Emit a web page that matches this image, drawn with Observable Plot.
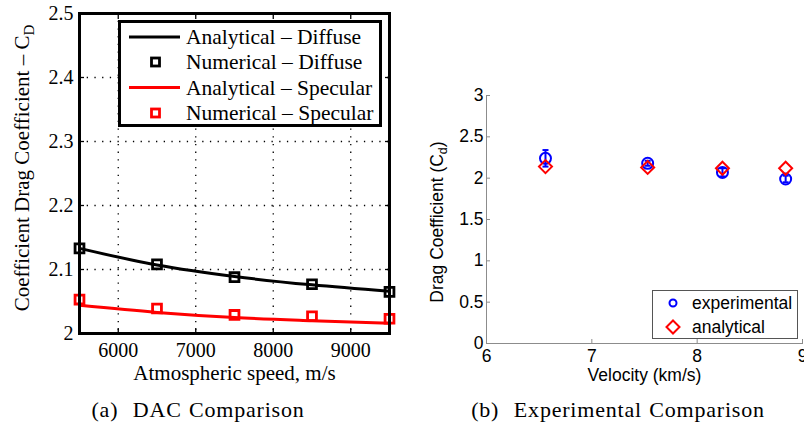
<!DOCTYPE html>
<html><head><meta charset="utf-8">
<script src="https://cdn.jsdelivr.net/npm/d3@7"></script>
<script src="https://cdn.jsdelivr.net/npm/@observablehq/plot@0.6"></script>
<style>
body{margin:0;background:#fff}
#wrap{position:relative;width:804px;height:423px;overflow:hidden;background:#fff}
#left,#right{position:absolute;top:0}
#left{left:0}#right{left:400px}
.cap{position:absolute;top:399px;font-family:"Liberation Serif","Times New Roman",serif;font-size:22px;line-height:22px;letter-spacing:0.8px;word-spacing:1px;white-space:nowrap;transform:translateX(-50%);color:#000}
</style></head><body>
<div id="wrap"><div id="left"></div><div id="right"></div>
<div class="cap" style="left:198px">(a)&nbsp; DAC Comparison</div>
<div class="cap" style="left:618px">(b)&nbsp; Experimental Comparison</div>
</div>
<script>
// ---- Panel (a) data ----
const speeds = [5500, 6500, 7500, 8500, 9500];
const analyticalDiffuse = [2.133, 2.107, 2.089, 2.076, 2.066];
const numericalDiffuse = [2.133, 2.108, 2.088, 2.077, 2.065];
const analyticalSpecular = [2.044, 2.033, 2.025, 2.020, 2.016];
const numericalSpecular = [2.053, 2.039, 2.029, 2.027, 2.023];
const xTicksA = [6000, 7000, 8000, 9000];
const yTicksA = [2, 2.1, 2.2, 2.3, 2.4, 2.5];
const yTickLabelsA = ["2", "2.1", "2.2", "2.3", "2.4", "2.5"];
const legendLabelsA = ["Analytical – Diffuse", "Numerical – Diffuse", "Analytical – Specular", "Numerical – Specular"];

// ---- Panel (b) data ----
const velocities = [6.56, 7.53, 8.24, 8.84];
const experimental = [2.24, 2.18, 2.07, 1.99];
const experimentalErr = [0.10, 0.03, 0.05, 0.04];
const analytical = [2.14, 2.13, 2.12, 2.12];
const xTicksB = [6, 7, 8, 9];
const yTicksB = [0, 0.5, 1, 1.5, 2, 2.5, 3];
const yTickLabelsB = ["0", "0.5", "1", "1.5", "2", "2.5", "3"];
const legendLabelsB = ["experimental", "analytical"];

const serif = "'Liberation Serif', 'Times New Roman', serif";
const sans = "'Liberation Sans', Arial, Helvetica, sans-serif";

const A = speeds.map((s, i) => ({s, ad: analyticalDiffuse[i], nd: numericalDiffuse[i], as: analyticalSpecular[i], ns: numericalSpecular[i]}));
const dotGrid = {stroke: "black", strokeOpacity: 1, strokeWidth: 1.3, strokeDasharray: "1.3,6.4"};

const left = Plot.plot({
  width: 400, height: 390, marginLeft: 79, marginRight: 11, marginTop: 13, marginBottom: 57,
  style: {fontFamily: serif, fontSize: "20px", color: "black", background: "white", overflow: "visible"},
  x: {domain: [5500, 9500]},
  y: {domain: [2, 2.5]},
  marks: [
    Plot.gridX(xTicksA, dotGrid),
    Plot.gridY(yTicksA.slice(1, -1), dotGrid),
    Plot.axisX(xTicksA, {tickSize: 0, tickPadding: 9, tickFormat: d => String(d), label: null}),
    Plot.axisX({label: "Atmospheric speed, m/s", labelArrow: "none", labelAnchor: "center", labelOffset: 46, fontSize: 21, ticks: [], tickSize: 0}),
    Plot.axisY(yTicksA, {tickSize: 0, tickPadding: 6, tickFormat: (d, i) => yTickLabelsA[i], label: null}),
    Plot.axisX(xTicksA, {anchor: "bottom", tickSize: 5, dy: -5, fill: "none", label: null, strokeWidth: 1.3}),
    Plot.axisX(xTicksA, {anchor: "top", tickSize: 5, dy: 5, fill: "none", label: null, strokeWidth: 1.3}),
    Plot.axisY(yTicksA, {anchor: "left", tickSize: 5, dx: 5, fill: "none", label: null, strokeWidth: 1.3}),
    Plot.axisY(yTicksA, {anchor: "right", tickSize: 5, dx: -5, fill: "none", label: null, strokeWidth: 1.3}),
    Plot.line(A, {x: "s", y: "ad", stroke: "black", strokeWidth: 3, curve: "monotone-x"}),
    Plot.line(A, {x: "s", y: "as", stroke: "#ff0000", strokeWidth: 3, curve: "monotone-x"}),
    Plot.dot(A, {x: "s", y: "nd", symbol: "square", r: 5, stroke: "black", strokeWidth: 2.8, fill: "none"}),
    Plot.dot(A, {x: "s", y: "ns", symbol: "square", r: 5, stroke: "#ff0000", strokeWidth: 2.8, fill: "none"}),
    Plot.frame({stroke: "black", strokeWidth: 3})
  ]
});
document.getElementById("left").appendChild(left);

{
  const svg = d3.select(left);
  const yl = svg.append("text").attr("transform", "translate(29,168) rotate(-90)")
    .attr("text-anchor", "middle").attr("font-family", serif).attr("font-size", 21).attr("fill", "black");
  yl.append("tspan").text("Coefficient Drag Coefficient – C");
  yl.append("tspan").attr("dy", 5).attr("font-size", 15).text("D");

  const lg = svg.append("g");
  lg.append("rect").attr("x", 119.5).attr("y", 21.5).attr("width", 261).attr("height", 104)
    .attr("fill", "white").attr("stroke", "black").attr("stroke-width", 3);
  const rowsY = [37, 62, 87.5, 113];
  const colors = ["black", "black", "#ff0000", "#ff0000"];
  legendLabelsA.forEach((lab, i) => {
    if (i % 2 === 0) {
      lg.append("line").attr("x1", 129).attr("x2", 180).attr("y1", rowsY[i]).attr("y2", rowsY[i])
        .attr("stroke", colors[i]).attr("stroke-width", 3);
    } else {
      lg.append("rect").attr("x", 151.5).attr("y", rowsY[i] - 4).attr("width", 8).attr("height", 8)
        .attr("fill", "none").attr("stroke", colors[i]).attr("stroke-width", 2.8);
    }
    lg.append("text").attr("x", 186).attr("y", rowsY[i]).attr("dy", "0.34em").attr("text-anchor", "start")
      .attr("font-family", serif).attr("font-size", 21.5).attr("fill", "black").text(lab);
  });
}

// ---- Panel (b) ----
const B = velocities.map((v, i) => ({v, e: experimental[i], lo: experimental[i] - experimentalErr[i], hi: experimental[i] + experimentalErr[i], a: analytical[i]}));
const diamond = {draw(ctx, size) { const r = Math.sqrt(size / Math.PI); ctx.moveTo(0, -r); ctx.lineTo(r, 0); ctx.lineTo(0, r); ctx.lineTo(-r, 0); ctx.closePath(); }};
const hcap = {draw(ctx, size) { const r = Math.sqrt(size / Math.PI); ctx.moveTo(-r, 0); ctx.lineTo(r, 0); }};
const gray = "#8c8c8c";

const right = Plot.plot({
  width: 404, height: 390, marginLeft: 86, marginRight: 2, marginTop: 95, marginBottom: 47,
  style: {fontFamily: sans, fontSize: "17.5px", color: "black", background: "white", overflow: "visible"},
  x: {domain: [6, 9]},
  y: {domain: [0, 3]},
  marks: [
    Plot.frame({anchor: "bottom", stroke: gray}),
    Plot.frame({anchor: "left", stroke: gray}),
    Plot.axisX(xTicksB, {tickSize: 0, tickPadding: 6, tickFormat: d => String(d), label: "Velocity (km/s)", labelArrow: "none", labelAnchor: "center", labelOffset: 37}),
    Plot.axisY(yTicksB, {tickSize: 0, tickPadding: 3, tickFormat: (d, i) => yTickLabelsB[i], label: null}),
    Plot.axisX(xTicksB, {anchor: "bottom", tickSize: 4, dy: -4, fill: "none", label: null, stroke: gray}),
    Plot.axisY(yTicksB, {anchor: "left", tickSize: 4, dx: 4, fill: "none", label: null, stroke: gray}),
    Plot.ruleX(B, {x: "v", y1: "lo", y2: "hi", stroke: "#0000ff", strokeWidth: 2}),
    Plot.dot(B, {x: "v", y: "hi", symbol: hcap, r: 3, stroke: "#0000ff", strokeWidth: 2}),
    Plot.dot(B, {x: "v", y: "lo", symbol: hcap, r: 3, stroke: "#0000ff", strokeWidth: 2}),
    Plot.dot(B, {x: "v", y: "e", r: 5.5, stroke: "#0000ff", strokeWidth: 2, fill: "none"}),
    Plot.dot(B, {x: "v", y: "a", symbol: diamond, r: 6.5, stroke: "#ff0000", strokeWidth: 2, fill: "none"})
  ]
});
document.getElementById("right").appendChild(right);

{
  const svg = d3.select(right);
  const yl = svg.append("text").attr("transform", "translate(43,222) rotate(-90)")
    .attr("text-anchor", "middle").attr("font-family", sans).attr("font-size", 17.5).attr("fill", "black");
  yl.append("tspan").text("Drag Coefficient (C");
  yl.append("tspan").attr("dy", 4).attr("font-size", 12.5).text("d");
  yl.append("tspan").attr("dy", -4).text(")");

  const lg = svg.append("g");
  lg.append("rect").attr("x", 252.5).attr("y", 290.5).attr("width", 145).attr("height", 48)
    .attr("fill", "white").attr("stroke", "#555").attr("stroke-width", 1);
  lg.append("circle").attr("cx", 273).attr("cy", 303).attr("r", 3.5)
    .attr("fill", "none").attr("stroke", "#0000ff").attr("stroke-width", 2);
  lg.append("path").attr("d", "M273,320.5L279.5,327L273,333.5L266.5,327Z")
    .attr("fill", "none").attr("stroke", "#ff0000").attr("stroke-width", 2);
  [303, 327].forEach((y, i) => {
    lg.append("text").attr("x", 292).attr("y", y).attr("dy", "0.35em").attr("text-anchor", "start")
      .attr("font-family", sans).attr("font-size", 17.5).attr("fill", "black").text(legendLabelsB[i]);
  });
}
</script>
</body></html>
